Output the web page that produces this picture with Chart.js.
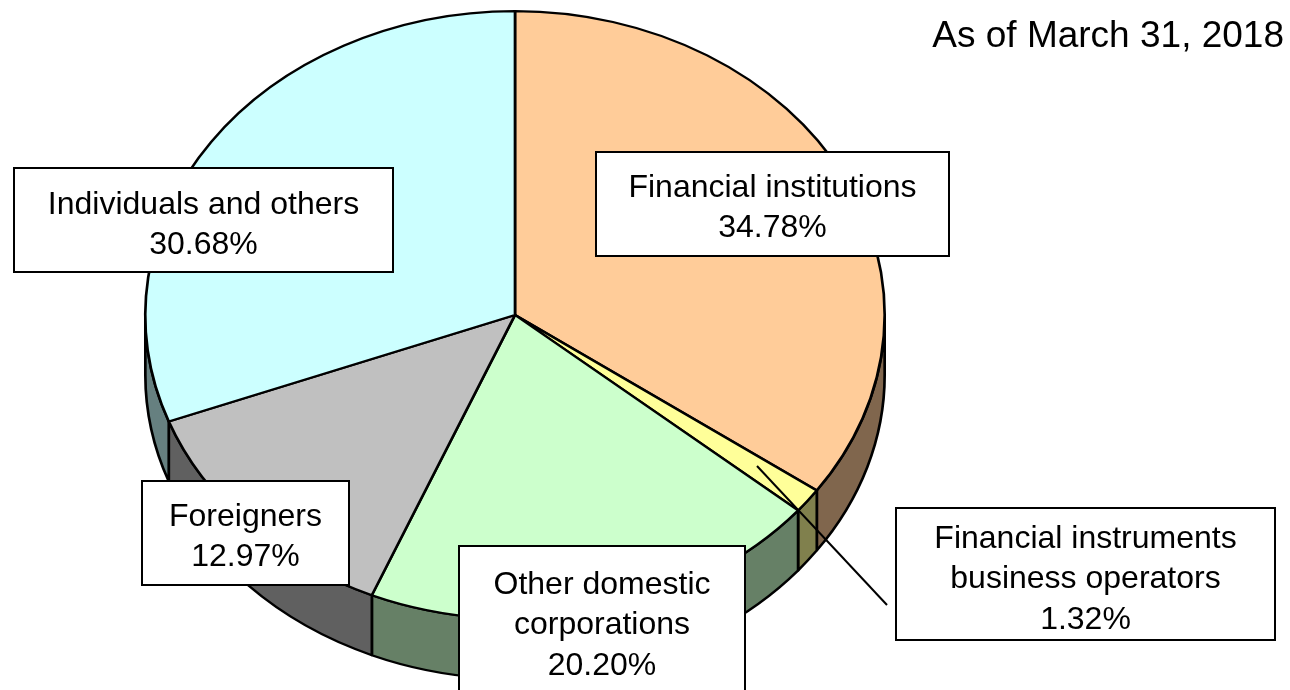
<!DOCTYPE html>
<html><head><meta charset="utf-8">
<style>html,body{margin:0;padding:0;background:#fff}canvas{display:block}</style>
<script src="https://cdn.jsdelivr.net/npm/chart.js@4"></script>
</head><body>
<canvas id="c" width="1290" height="690"></canvas>
<script>
const categories = ["Financial institutions","Financial instruments business operators","Other domestic corporations","Foreigners","Individuals and others"];
const shares = [34.78,1.32,20.20,12.97,30.68];
const topColors = ["#FFCC99","#FFFF99","#CCFFCC","#C0C0C0","#CCFFFF"];
const sideColors = ["#80664D","#80804D","#668066","#606060","#668080"];
const dateNote = "As of March 31, 2018";
const labelLines = [["Financial institutions","34.78%"],["Financial instruments","business operators","1.32%"],["Other domestic","corporations","20.20%"],["Foreigners","12.97%"],["Individuals and others","30.68%"]];
// layout of the callout boxes: left, top, width, height, first-line centre y
const boxes = [[596,152,353,104,186],[896,508,379,132,537],[459,546,286,150,583],[142,481,207,104,515],[14,168,379,104,203]];
const leader = [757,466,887,605];
const xStretch = 371/305, depth = 60, cx = 515;

const tilt = {
  id:'tilt',
  beforeDatasetsDraw(chart){
    const ctx = chart.ctx, arcs = chart.getDatasetMeta(0).data;
    ctx.save();
    ctx.translate(cx,0); ctx.scale(xStretch,1); ctx.translate(-arcs[0].x,0);
    arcs.forEach((arc,i)=>{
      const a = Math.max(arc.startAngle,0), b = Math.min(arc.endAngle,Math.PI);
      if(b<=a) return;
      ctx.beginPath();
      ctx.arc(arc.x,arc.y,arc.outerRadius,a,b);
      ctx.arc(arc.x,arc.y+depth,arc.outerRadius,b,a,true);
      ctx.closePath();
      ctx.fillStyle = sideColors[i]; ctx.fill();
      ctx.strokeStyle = '#000'; ctx.lineWidth = 2.2; ctx.lineJoin='round'; ctx.stroke();
    });
  },
  afterDatasetsDraw(chart){
    const ctx = chart.ctx;
    ctx.restore();
    ctx.save();
    ctx.strokeStyle='#000'; ctx.lineWidth=2;
    ctx.beginPath(); ctx.moveTo(leader[0],leader[1]); ctx.lineTo(leader[2],leader[3]); ctx.stroke();
    ctx.fillStyle='#000'; ctx.textAlign='center'; ctx.textBaseline='middle';
    boxes.forEach((b,i)=>{
      ctx.fillStyle='#fff'; ctx.fillRect(b[0],b[1],b[2],b[3]);
      ctx.strokeRect(b[0],b[1],b[2],b[3]);
      ctx.fillStyle='#000'; ctx.font='32px "Liberation Sans"';
      labelLines[i].forEach((t,k)=>ctx.fillText(t,b[0]+b[2]/2,b[4]+2+k*40.5));
    });
    ctx.font='37px "Liberation Sans"'; ctx.textAlign='right';
    ctx.fillText(dateNote,1284,37);
    ctx.restore();
  }
};

new Chart(document.getElementById('c'),{
  type:'pie',
  data:{labels:categories,datasets:[{data:shares,backgroundColor:topColors,borderColor:'#000',borderWidth:2.2,borderJoinStyle:'round'}]},
  options:{
    responsive:false,animation:false,
    layout:{padding:{left:0,right:260,top:10,bottom:70}},
    plugins:{legend:{display:false},tooltip:{enabled:false}}
  },
  plugins:[tilt]
});
</script>
</body></html>
